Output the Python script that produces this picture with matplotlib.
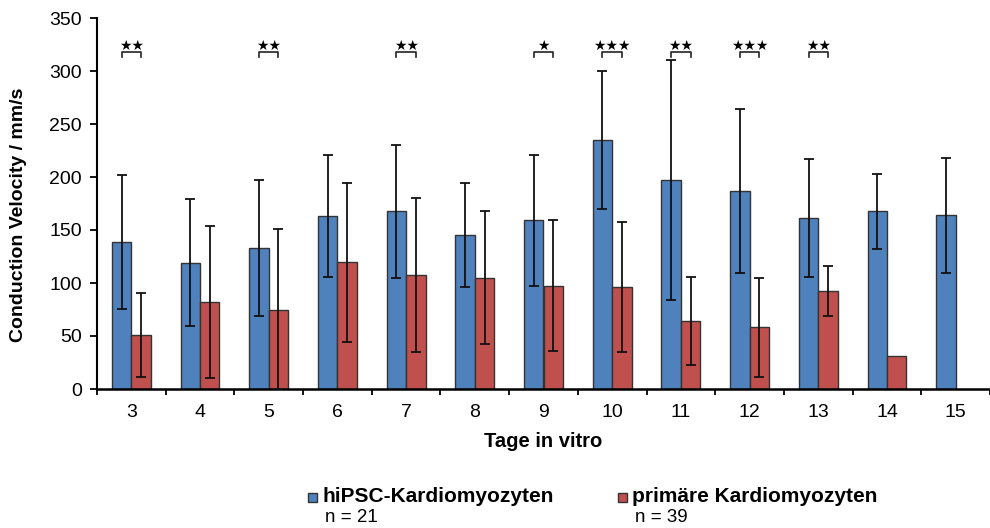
import numpy as np
import matplotlib
matplotlib.use("Agg")
import matplotlib.pyplot as plt
from matplotlib.patches import Rectangle

plt.rcParams['font.family'] = ['Liberation Sans', 'DejaVu Sans']

# Tage in vitro
days = [3, 4, 5, 6, 7, 8, 9, 10, 11, 12, 13, 14, 15]

# mean conduction velocity (mm/s) and standard deviation
hipsc_mean = [138.7, 119, 133, 163, 167.6, 145.6, 159, 235, 197, 187, 161.3, 167.6, 163.8]
hipsc_sd = [63.5, 60, 64, 57.5, 63, 49, 61.5, 65, 113.5, 77.5, 55.4, 35.5, 54]
prim_mean = [51, 82, 74.5, 119.8, 107.5, 105, 97.5, 96.2, 64.5, 58.2, 92.8, 31.4, np.nan]
prim_sd = [40, 72, 76, 75, 72.5, 62.6, 61.5, 61.3, 41.5, 46.5, 23.6, 0, np.nan]

# significance markers (day -> stars)
sig_days = [3, 5, 7, 9, 10, 11, 12, 13]
sig_stars = ["**", "**", "**", "*", "***", "**", "***", "**"]

labels = ["hiPSC-Kardiomyozyten", "primäre Kardiomyozyten"]
n_labels = ["n = 21", "n = 39"]
colors = ["#4F81BD", "#C0504D"]

fig = plt.figure(figsize=(9.9, 5.28), dpi=100)
ax = fig.add_axes([97 / 990, 139 / 528, 893 / 990, 371 / 528])

x = np.array(days, dtype=float)
w = 0.283
edge = "#333333"

ax.bar(x - w / 2, hipsc_mean, w, color=colors[0], edgecolor=edge, linewidth=1, zorder=2)
ax.bar(x + w / 2, prim_mean, w, color=colors[1], edgecolor=edge, linewidth=1, zorder=2)

err_kw = dict(fmt="none", ecolor="#111111", elinewidth=1.3, capsize=3.8, capthick=1.3, zorder=3)
ax.errorbar(x - w / 2, hipsc_mean, yerr=hipsc_sd, **err_kw)
pm = np.array(prim_mean)
ps = np.array(prim_sd)
ok = ps > 0
lower = np.minimum(ps, pm)
ax.errorbar(x[ok] + w / 2, pm[ok], yerr=[lower[ok], ps[ok]], **err_kw)

# significance brackets
for d, s in zip(sig_days, sig_stars):
    x0, x1 = d - w / 2, d + w / 2
    ax.plot([x0, x0, x1, x1], [313, 318, 318, 313], color="#222222", lw=1.2,
            clip_on=False, zorder=4)
    ax.text(d, 324, "★" * len(s), ha="center", va="center", fontsize=10,
            family="DejaVu Sans", color="black", zorder=5)

ax.set_xlim(2.5, 2.5 + 893 / 69)
ax.set_ylim(0, 350)
ax.set_yticks(np.arange(0, 351, 50))
ax.set_xticks(days)
ax.set_xticks(np.arange(2.5, 16, 1), minor=True)
ax.tick_params(axis="x", which="major", length=0, labelsize=14, pad=11)
ax.tick_params(axis="x", which="minor", length=4.5, width=1.3, direction="out")
ax.tick_params(axis="y", length=5, width=1.3, direction="out", labelsize=14, pad=6)
for side in ["top", "right"]:
    ax.spines[side].set_visible(False)
ax.spines["left"].set_linewidth(1.5)
ax.spines["bottom"].set_linewidth(1.8)

ax.set_ylabel("Conduction Velocity / mm/s", fontsize=14, fontweight="bold")
ax.yaxis.set_label_coords((27 - 97) / 893, 0.47)
ax.set_xlabel("Tage in vitro", fontsize=14.5, fontweight="bold", labelpad=8)

# legend
leg_x = [308, 618]
for lx, lab, nl, c in zip(leg_x, labels, n_labels, colors):
    fig.patches.append(Rectangle((lx / 990, (528 - 502) / 528), 9 / 990, 9 / 528,
                                 transform=fig.transFigure, facecolor=c,
                                 edgecolor="#333333", linewidth=1))
    fig.text((lx + 14) / 990, (528 - 497) / 528, lab, fontsize=15, fontweight="bold",
             va="center", ha="left")
    fig.text((lx + 17) / 990, (528 - 518) / 528, nl, fontsize=13.5, va="center", ha="left")

fig.savefig("out.png", dpi=100)
